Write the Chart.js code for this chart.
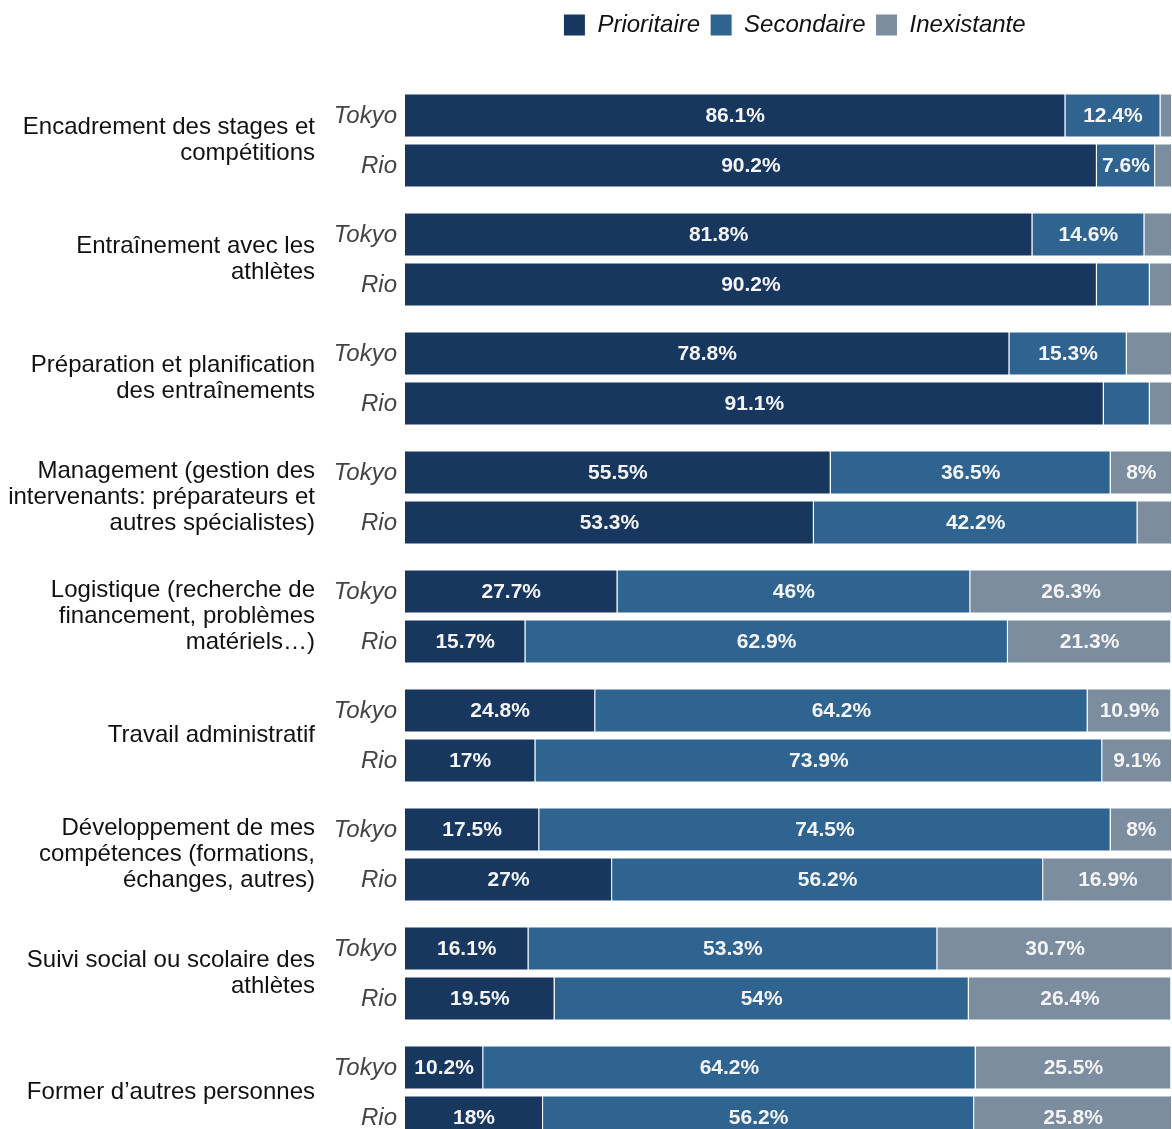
<!DOCTYPE html>
<html>
<head>
<meta charset="utf-8">
<script src="https://cdn.jsdelivr.net/npm/chart.js@4.4.1/dist/chart.umd.min.js"></script>
<style>
    html, body { margin: 0; padding: 0; background: #fff; overflow: hidden; }
</style>
</head>
<body>
<canvas id="chart" width="1172" height="1152"></canvas>
<script>
// Categories (multi-line labels as shown on the left)
const categories = [
    ['Encadrement des stages et', 'compétitions'],
    ['Entraînement avec les', 'athlètes'],
    ['Préparation et planification', 'des entraînements'],
    ['Management (gestion des', 'intervenants: préparateurs et', 'autres spécialistes)'],
    ['Logistique (recherche de', 'financement, problèmes', 'matériels…)'],
    ['Travail administratif'],
    ['Développement de mes', 'compétences (formations,', 'échanges, autres)'],
    ['Suivi social ou scolaire des', 'athlètes'],
    ['Former d’autres personnes']
];
const cities = ['Tokyo', 'Rio'];
const levels = ['Prioritaire', 'Secondaire', 'Inexistante'];

// Shares in % per category
const tokyoPrio = [86.1, 81.8, 78.8, 55.5, 27.7, 24.8, 17.5, 16.1, 10.2];
const tokyoSec  = [12.4, 14.6, 15.3, 36.5, 46, 64.2, 74.5, 53.3, 64.2];
const tokyoNone = [1.5, 3.6, 5.9, 8, 26.3, 10.9, 8, 30.7, 25.5];
const rioPrio   = [90.2, 90.2, 91.1, 53.3, 15.7, 17, 27, 19.5, 18];
const rioSec    = [7.6, 6.9, 6.0, 42.2, 62.9, 73.9, 56.2, 54, 56.2];
const rioNone   = [2.2, 2.9, 2.9, 4.5, 21.3, 9.1, 16.9, 26.4, 25.8];

const COLORS = ['#18375f', '#2f6491', '#7b8d9e'];
const FONT = '"Liberation Sans", Arial, sans-serif';
const LABEL_MIN = 7; // smaller segments get no value label

function ds(label, data, level, stack) {
    return {
        label: label,
        data: data,
        stack: stack,
        backgroundColor: COLORS[level],
        borderColor: '#ffffff',
        borderWidth: 1,
        categoryPercentage: 100 / 119,
        barPercentage: 0.88
    };
}

// Value labels inside the segments + Tokyo/Rio labels left of the bars
const barText = {
    id: 'barText',
    afterDatasetsDraw(chart) {
        const ctx = chart.ctx;
        ctx.save();
        ctx.textBaseline = 'middle';
        chart.data.datasets.forEach((d, di) => {
            const meta = chart.getDatasetMeta(di);
            meta.data.forEach((bar, i) => {
                const v = d.data[i];
                if (v >= LABEL_MIN) {
                    ctx.font = 'bold 21px ' + FONT;
                    ctx.fillStyle = '#f4f4f4';
                    ctx.textAlign = 'center';
                    ctx.fillText(v + '%', (bar.x + bar.base) / 2, bar.y + 1);
                }
                if (di % 3 === 0) {
                    ctx.font = 'italic 24px ' + FONT;
                    ctx.fillStyle = '#444444';
                    ctx.textAlign = 'right';
                    ctx.fillText(cities[di / 3], chart.chartArea.left - 8, bar.y + 1);
                }
            });
        });
        ctx.restore();
    }
};

// Extra space between legend and bars, legend nudged right
const legendGap = {
    id: 'legendGap',
    beforeInit(chart) {
        const fit = chart.legend.fit;
        chart.legend.fit = function () {
            fit.bind(chart.legend)();
            this.height += 34;
        };
    },
    afterLayout(chart) {
        chart.legend.left += 6;
        chart.legend.right += 6;
    }
};

new Chart(document.getElementById('chart').getContext('2d'), {
    type: 'bar',
    data: {
        labels: categories,
        datasets: [
            ds(levels[0], tokyoPrio, 0, 'Tokyo'),
            ds(levels[1], tokyoSec, 1, 'Tokyo'),
            ds(levels[2], tokyoNone, 2, 'Tokyo'),
            ds(levels[0], rioPrio, 0, 'Rio'),
            ds(levels[1], rioSec, 1, 'Rio'),
            ds(levels[2], rioNone, 2, 'Rio')
        ]
    },
    options: {
        indexAxis: 'y',
        responsive: false,
        animation: false,
        layout: { padding: { top: 3, left: 0, right: 0, bottom: 0 } },
        plugins: {
            legend: {
                position: 'top',
                fullSize: false,
                labels: {
                    filter: (item) => item.datasetIndex < 3,
                    color: '#111111',
                    font: { family: FONT, size: 24, style: 'italic' },
                    boxWidth: 22,
                    boxHeight: 22,
                    padding: 10
                }
            },
            tooltip: { enabled: false }
        },
        scales: {
            x: {
                stacked: true,
                min: 0,
                max: 100,
                display: false
            },
            y: {
                stacked: true,
                grid: { display: false, drawTicks: false },
                border: { display: false },
                afterFit: (scale) => {
                    scale.width = 405;
                    scale.paddingTop = 0;
                    scale.paddingBottom = 0;
                },
                ticks: {
                    color: '#111111',
                    padding: 90,
                    font: { family: FONT, size: 24, lineHeight: 1.08 }
                }
            }
        }
    },
    plugins: [barText, legendGap]
});
</script>
</body>
</html>
